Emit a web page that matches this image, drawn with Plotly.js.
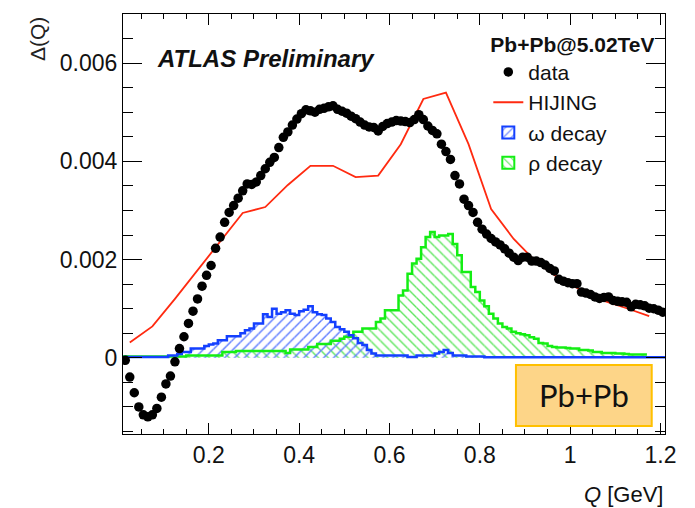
<!DOCTYPE html>
<html><head><meta charset="utf-8">
<script src="https://cdn.plot.ly/plotly-3.0.1.min.js"></script>
<style>html,body{margin:0;padding:0;background:#fff}</style>
</head><body>
<div id="chart" style="width:695px;height:508px"></div>
<script>
// Histogram binning (data points and decay histograms share 0.01 GeV bins starting at 0.01)
const binStart = 0.01;
const binWidth = 0.01;

// Delta(Q) data, one value per 0.01 GeV bin (centers 0.015 ... 1.205)
const dataDelta = [
 -0.00005,-0.00039,-0.00071,-0.00100,-0.00116,-0.00120,-0.00116,-0.00103,-0.00080,-0.00053,
 -0.00037,-0.00008, 0.00019, 0.00043, 0.00070, 0.00095, 0.00120, 0.00146, 0.00168, 0.00188,
  0.00223, 0.00246, 0.00276, 0.00296, 0.00310, 0.00325, 0.00340, 0.00354, 0.00353, 0.00358,
  0.00371, 0.00385, 0.00398, 0.00408, 0.00428, 0.00449, 0.00460, 0.00474, 0.00486, 0.00497,
  0.00505, 0.00503, 0.00500, 0.00506, 0.00508, 0.00511, 0.00513, 0.00506, 0.00502, 0.00498,
  0.00492, 0.00487, 0.00480, 0.00474, 0.00470, 0.00469, 0.00462, 0.00471, 0.00477, 0.00480,
  0.00483, 0.00482, 0.00481, 0.00479, 0.00485, 0.00495, 0.00485, 0.00472, 0.00463, 0.00456,
  0.00435, 0.00420, 0.00404, 0.00371, 0.00354, 0.00323, 0.00310, 0.00296, 0.00276, 0.00262,
  0.00252, 0.00243, 0.00236, 0.00230, 0.00222, 0.00213, 0.00205, 0.00198, 0.00205, 0.00205,
  0.00197, 0.00197, 0.00194, 0.00189, 0.00182, 0.00177, 0.00160, 0.00156, 0.00153, 0.00151,
  0.00151, 0.00134, 0.00132, 0.00129, 0.00124, 0.00121, 0.00123, 0.00124, 0.00117, 0.00115,
  0.00114, 0.00113, 0.00104, 0.00109, 0.00108, 0.00106, 0.00101, 0.00100, 0.00097, 0.00093
];

// HIJING curve (0.05 GeV bins)
const hijingQ = [0.025,0.075,0.125,0.175,0.225,0.275,0.325,0.375,0.425,0.475,0.525,0.575,
                 0.625,0.675,0.725,0.775,0.825,0.875,0.925,0.975,1.025,1.075,1.125,1.175];
const hijingDelta = [0.000313,0.00064,0.00120,0.00179,0.00237,0.00295,0.00307,0.00352,0.00391,0.00391,0.00368,0.00371,
                     0.00435,0.00527,0.00540,0.00435,0.00303,0.00242,0.00195,0.00162,0.00138,0.00116,0.00101,0.00085];

// omega decay histogram (120 bins, 0.01 -> 1.21)
const omegaDecay = [
 0.00002,0.00002,0.00002,0.00002,0.00002,0.00002,0.00002,0.00002,0.00002,0.00002,
 0.00005,0.00005,0.00008,0.00012,0.00012,0.00019,0.00019,0.00019,0.00024,0.00027,
 0.00029,0.00036,0.00036,0.00044,0.00044,0.00044,0.00050,0.00056,0.00060,0.00070,
 0.00070,0.00089,0.00083,0.00100,0.00090,0.00093,0.00097,0.00090,0.00087,0.00095,
 0.00098,0.00105,0.00093,0.00089,0.00087,0.00080,0.00073,0.00063,0.00058,0.00053,
 0.00046,0.00040,0.00030,0.00026,0.00016,0.00009,0.00005,0.00005,0.00005,0.00005,
 0.00005,0.00005,0.00005,0.00002,0.00002,0.00005,0.00005,0.00005,0.00005,0.00009,
 0.00012,0.00016,0.00010,0.00005,0.00005,0.00005,0.00003,0.00003,0.00003,0.00003,
 0.00001,0.00001,0.00001,0.00001,0.00001,0.00001,0.00001,0.00001,0.00001,0.00001,
 0.00001,0.00001,0.00001,0.00001,0.00001,0.00001,0.00001,0.00001,0.00001,0.00001,
 0.00001,0.00001,0.00001,0.00001,0.00001,0.00001,0.00001,0.00001,0.00001,0.00001,
 0.00001,0.00001,0.00001,0.00001,0.00001,0.00001,0.00001,0.00001,0.00001,0.00001
];

// rho decay histogram (116 bins, 0.01 -> 1.17)
const rhoDecay = [
 0.00003,0.00003,0.00003,0.00003,0.00003,0.00003,0.00003,0.00003,0.00003,0.00003,
 0.00003,0.00003,0.00003,0.00003,0.00005,0.00005,0.00005,0.00005,0.00005,0.00005,
 0.00005,0.00005,0.00012,0.00012,0.00012,0.00014,0.00014,0.00014,0.00014,0.00014,
 0.00014,0.00014,0.00014,0.00014,0.00014,0.00014,0.00010,0.00017,0.00017,0.00017,
 0.00017,0.00022,0.00022,0.00028,0.00028,0.00028,0.00035,0.00035,0.00039,0.00043,
 0.00043,0.00053,0.00053,0.00060,0.00060,0.00060,0.00073,0.00080,0.00097,0.00097,
 0.00097,0.00127,0.00137,0.00171,0.00192,0.00202,0.00225,0.00246,0.00256,0.00246,
 0.00249,0.00249,0.00252,0.00232,0.00209,0.00175,0.00175,0.00144,0.00134,0.00117,
 0.00105,0.00090,0.00080,0.00070,0.00063,0.00060,0.00053,0.00050,0.00048,0.00046,
 0.00042,0.00039,0.00030,0.00029,0.00024,0.00022,0.00021,0.00021,0.00020,0.00019,
 0.00019,0.00016,0.00016,0.00015,0.00012,0.00012,0.00010,0.00010,0.00010,0.00009,
 0.00009,0.00008,0.00007,0.00007,0.00007,0.00007
];

const xTickVals = [0.2,0.4,0.6,0.8,1,1.2];
const xTickText = ['0.2','0.4','0.6','0.8','1','1.2'];
const yTickVals = [0,0.002,0.004,0.006];
const yTickText = ['0','0.002','0.004','0.006'];

function binCenters(n){ const c=[]; for(let i=0;i<n;i++) c.push(+(binStart+binWidth*(i+0.5)).toFixed(4)); return c; }
function binEdges(n){ const e=[]; for(let i=0;i<=n;i++) e.push(+(binStart+binWidth*i).toFixed(4)); return e; }
function stepVals(v){ return v.concat([v[v.length-1]]); }
function firstOnly(n,w){ const a=[]; for(let i=0;i<n;i++) a.push(i===0?w:0); return a; }

const FONT = 'Liberation Sans, Arial, Helvetica, sans-serif';
const BLUE = '#1440ff', GREEN = '#14ee14';

const traces = [
  { // rho hatch fill
    type:'bar', name:'ρ decay', x: binCenters(rhoDecay.length), y: rhoDecay, width: binWidth,
    marker:{ color:'rgba(0,0,0,0)',
      line:{ color: GREEN, width: firstOnly(rhoDecay.length,2) },
      pattern:{ shape:'\\', fgcolor:'#5ee65e', bgcolor:'rgba(0,0,0,0)', size:7, solidity:0.2, fillmode:'replace' } },
    legendrank: 4, hoverinfo:'skip'
  },
  { // rho outline
    type:'scatter', mode:'lines', x: binEdges(rhoDecay.length), y: stepVals(rhoDecay),
    line:{ shape:'hv', color: GREEN, width: 2.5 }, showlegend:false, hoverinfo:'skip'
  },
  { // omega hatch fill
    type:'bar', name:'ω decay', x: binCenters(omegaDecay.length), y: omegaDecay, width: binWidth,
    marker:{ color:'rgba(0,0,0,0)',
      line:{ color: BLUE, width: firstOnly(omegaDecay.length,2) },
      pattern:{ shape:'/', fgcolor:'#5a78ff', bgcolor:'rgba(0,0,0,0)', size:7, solidity:0.2, fillmode:'replace' } },
    legendrank: 3, hoverinfo:'skip'
  },
  { // omega outline
    type:'scatter', mode:'lines', x: binEdges(omegaDecay.length), y: stepVals(omegaDecay),
    line:{ shape:'hv', color: BLUE, width: 2.5 }, showlegend:false, hoverinfo:'skip'
  },
  {
    type:'scatter', mode:'lines', name:'HIJING', x: hijingQ, y: hijingDelta,
    line:{ color:'#ff2a10', width: 1.8 }, legendrank: 2
  },
  {
    type:'scatter', mode:'markers', name:'data', x: binCenters(dataDelta.length), y: dataDelta,
    marker:{ color:'#000', size: 9.5 }, legendrank: 1
  }
];

const layout = {
  width: 695, height: 508,
  margin:{ l:123, r:30, t:14, b:74 },
  paper_bgcolor:'#fff', plot_bgcolor:'#fff',
  barmode:'overlay', bargap:0,
  font:{ family: FONT, color:'#111' },
  showlegend: true,
  legend:{
    x: 0.674, y: 0.975, xanchor:'left', yanchor:'top',
    bgcolor:'rgba(0,0,0,0)', borderwidth:0,
    font:{ family: FONT, size: 21, color:'#111' },
    title:{ text:'<b>Pb+Pb@5.02TeV</b>', font:{ family: FONT, size: 21, color:'#111' } },
    tracegroupgap: 0, itemwidth: 30
  },
  xaxis:{
    range:[0.01, 1.21], tickmode:'array', tickvals: xTickVals, ticktext: xTickText,
    ticks:'inside', ticklen: 11, tickwidth: 1, tickcolor:'#000',
    minor:{ dtick: 0.05, tick0: 0, ticks:'inside', ticklen: 5, tickcolor:'#000' },
    showline:true, linecolor:'#000', linewidth:1, mirror:'allticks',
    showgrid:false, zeroline:false,
    tickfont:{ family: FONT, size: 23, color:'#111' }
  },
  yaxis:{
    range:[-0.00155, 0.007], tickmode:'array', tickvals: yTickVals, ticktext: yTickText,
    ticks:'inside', ticklen: 19, tickwidth: 1, tickcolor:'#000',
    minor:{ dtick: 0.0005, tick0: 0, ticks:'inside', ticklen: 10, tickcolor:'#000' },
    showline:true, linecolor:'#000', linewidth:1, mirror:'allticks',
    showgrid:false, zeroline:false,
    tickfont:{ family: FONT, size: 23, color:'#111' }
  },
  shapes:[
    { type:'rect', xref:'paper', yref:'paper', x0:0.725, x1:0.9755, y0:0.019, y1:0.164,
      fillcolor:'#fdd588', line:{ color:'#ffc000', width:2 }, layer:'above' }
  ],
  annotations:[
    { text:'<b><i>ATLAS Preliminary</i></b>', xref:'paper', yref:'paper', x:0.059, y:0.895,
      xanchor:'left', yanchor:'middle', showarrow:false, font:{ family: FONT, size: 24, color:'#111' } },
    { text:'Δ(Q)', xref:'paper', yref:'paper', x:-0.159, y:0.94, textangle:-90,
      xanchor:'center', yanchor:'middle', showarrow:false, font:{ family: FONT, size: 21, color:'#222' } },
    { text:'<i>Q</i> [GeV]', xref:'paper', yref:'paper', x:1, y:-0.143,
      xanchor:'right', yanchor:'middle', showarrow:false, font:{ family: FONT, size: 22, color:'#111' } },
    { text:'Pb+Pb', xref:'paper', yref:'paper', x:0.85, y:0.093,
      xanchor:'center', yanchor:'middle', showarrow:false, font:{ family:'Lato, Open Sans, sans-serif', size: 31, color:'#111' } }
  ]
};

Plotly.newPlot('chart', traces, layout, { staticPlot:true, displayModeBar:false });
</script>
</body></html>
